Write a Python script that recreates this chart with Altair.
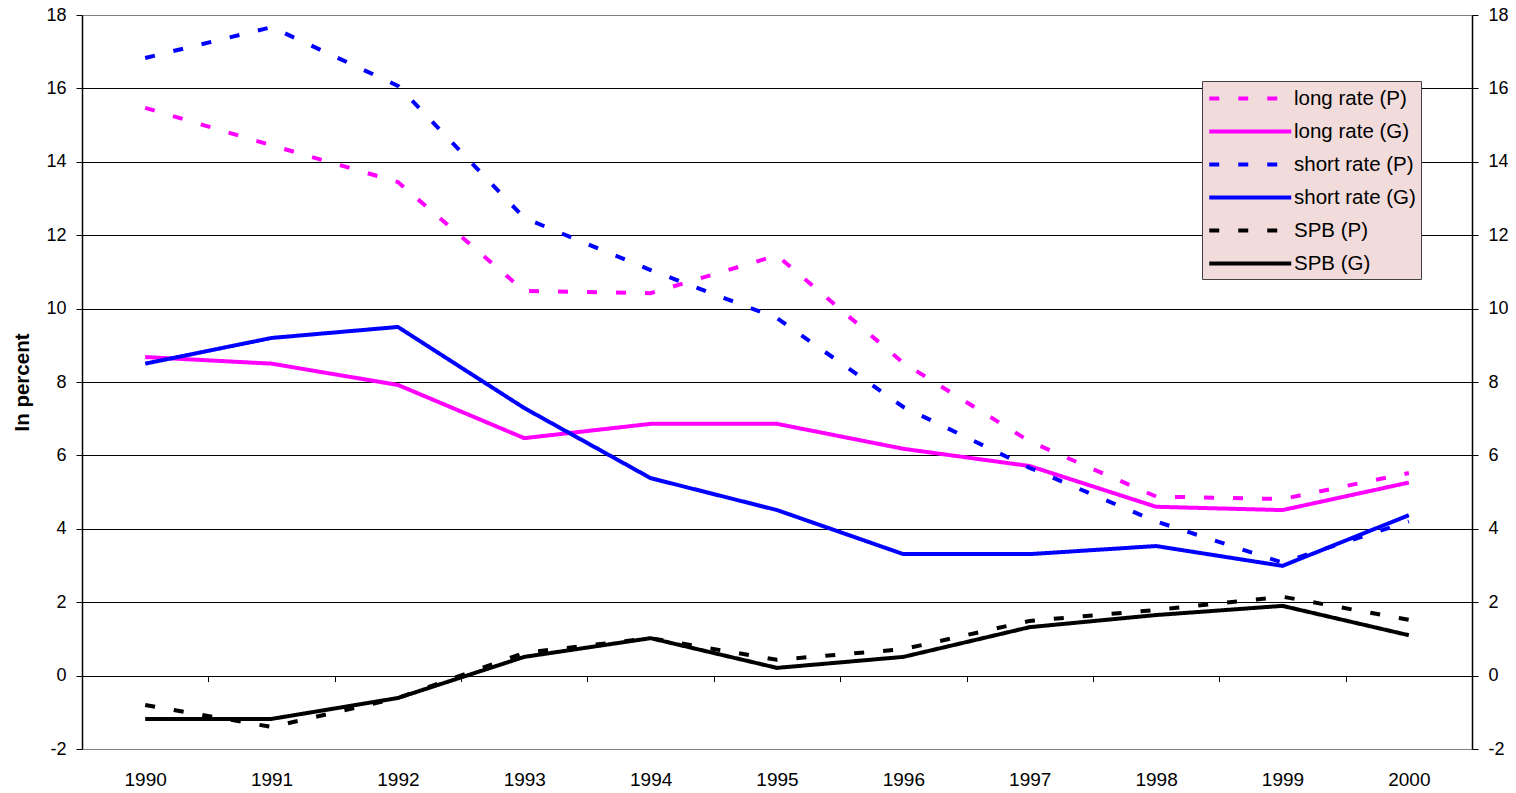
import altair as alt
import pandas as pd

years = [1990, 1991, 1992, 1993, 1994, 1995, 1996, 1997, 1998, 1999, 2000]
long_p = [15.47, 14.45, 13.45, 10.48, 10.42, 11.45, 8.52, 6.38, 4.88, 4.81, 5.52]
long_g = [8.68, 8.50, 7.92, 6.47, 6.86, 6.86, 6.18, 5.71, 4.60, 4.51, 5.26]
short_p = [16.83, 17.67, 16.07, 12.47, 11.05, 9.74, 7.32, 5.66, 4.20, 3.08, 4.20]
short_g = [8.50, 9.20, 9.50, 7.29, 5.38, 4.51, 3.31, 3.31, 3.53, 2.99, 4.37]
spb_p = [-0.80, -1.40, -0.61, 0.62, 1.02, 0.43, 0.72, 1.49, 1.79, 2.15, 1.52]
spb_g = [-1.18, -1.18, -0.61, 0.51, 1.02, 0.21, 0.51, 1.32, 1.65, 1.90, 1.10]

series_names = ["long rate (P)", "long rate (G)", "short rate (P)",
                "short rate (G)", "SPB (P)", "SPB (G)"]
series_vals = [long_p, long_g, short_p, short_g, spb_p, spb_g]
colors = ["#FF00FF", "#FF00FF", "#0000FF", "#0000FF", "#000000", "#000000"]
dashes = [[10, 19], [1, 0], [10, 19], [1, 0], [10, 19], [1, 0]]
y_ticks = list(range(-2, 19, 2))

rows = []
for name, vals in zip(series_names, series_vals):
    for yr, v in zip(years, vals):
        rows.append({"year": str(yr), "series": name, "value": v})
df = pd.DataFrame(rows)

FONT = "Liberation Sans"
yscale = alt.Scale(domain=[-2, 18], nice=False, zero=False)
hyphen_expr = "datum.value < 0 ? '-' + abs(datum.value) : '' + datum.value"

legend = alt.Legend(
    title=None, orient="none", legendX=1120, legendY=66,
    fillColor="#F2DCDB", strokeColor="#404040", padding=5,
    symbolType="M-1,0H7", symbolSize=420, symbolStrokeWidth=4,
    labelFontSize=20.5, labelFont=FONT, labelColor="#000000",
    labelOffset=62, rowPadding=10,
)

lines = alt.Chart(df).mark_line(strokeWidth=4).encode(
    x=alt.X("year:O", sort=[str(y) for y in years],
            scale=alt.Scale(type="point", padding=0.5),
            axis=alt.Axis(title=None, orient="bottom", ticks=False, tickSize=0,
                          domain=False, grid=False, labelAngle=0,
                          labelFontSize=19, labelFont=FONT, labelColor="#000000",
                          labelPadding=21)),
    y=alt.Y("value:Q", scale=yscale,
            axis=alt.Axis(title="In percent", orient="left", values=y_ticks,
                          labelExpr=hyphen_expr,
                          grid=True,
                          gridColor=alt.ConditionalAxisColor(
                              condition={"test": "datum.value == 18 || datum.value == -2",
                                         "value": "#808080"},
                              value="#000000"),
                          gridWidth=1,
                          domainColor="#000000", domainWidth=1.5,
                          tickColor="#000000", tickSize=6, tickWidth=1,
                          labelFontSize=18, labelFont=FONT, labelColor="#000000",
                          labelPadding=10,
                          titleFontSize=20.5, titleFont=FONT, titleFontWeight="bold",
                          titleColor="#000000", titlePadding=13)),
    color=alt.Color("series:N", scale=alt.Scale(domain=series_names, range=colors),
                    legend=legend, sort=series_names),
    strokeDash=alt.StrokeDash("series:N", scale=alt.Scale(domain=series_names, range=dashes),
                              legend=legend, sort=series_names),
)

ticks0 = alt.Chart(df).mark_point(opacity=0).encode(
    x=alt.X("year:O", sort=[str(y) for y in years],
            scale=alt.Scale(type="band", paddingInner=0, paddingOuter=0),
            axis=alt.Axis(title=None, orient="bottom", labels=False, domain=False,
                          grid=False, ticks=True, tickBand="extent", tickSize=6,
                          tickColor="#000000", tickWidth=1, offset=-73.4)),
    y=alt.Y("value:Q", scale=yscale, axis=None),
)

right = alt.Chart(df).mark_point(opacity=0).encode(
    x=alt.X("year:O", sort=[str(y) for y in years],
            scale=alt.Scale(type="point", padding=0.5), axis=None),
    y=alt.Y("value:Q", scale=yscale,
            axis=alt.Axis(title=None, orient="right", values=y_ticks, grid=False,
                          labelExpr=hyphen_expr,
                          domainColor="#000000", domainWidth=1.5,
                          tickColor="#000000", tickSize=6, tickWidth=1,
                          labelFontSize=18, labelFont=FONT, labelColor="#000000",
                          labelPadding=10)),
)

chart = alt.layer(ticks0, lines, right).resolve_scale(
    x="independent"
).resolve_axis(
    x="independent", y="independent"
).properties(
    width=1390, height=734,
    autosize="none",
    padding={"left": 74, "top": 7, "right": 36, "bottom": 40},
).configure_view(
    fill="#FFFFCC", stroke="#808080", strokeWidth=1
).configure(font=FONT)

chart.save("out.html", embed_options={"renderer": "svg", "actions": False})
